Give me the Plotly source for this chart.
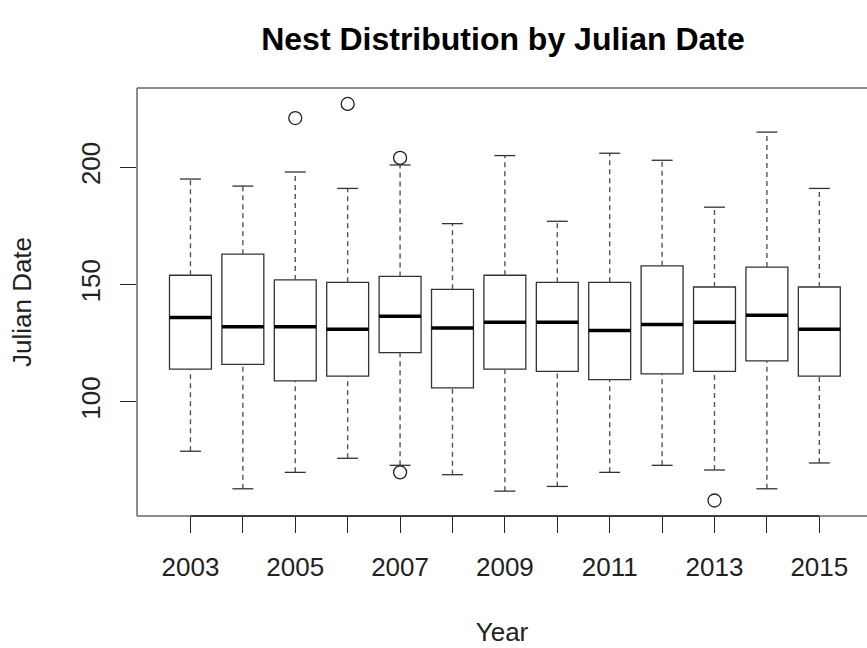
import plotly.graph_objects as go

years = [2003, 2004, 2005, 2006, 2007, 2008, 2009, 2010, 2011, 2012, 2013, 2014, 2015]
lower_whisker = [79, 63, 70, 76, 73, 69, 62, 64, 70, 73, 71, 63, 74]
q1 = [114, 116, 109, 111, 121, 106, 114, 113, 109.5, 112, 113, 117.5, 111]
median = [136, 132, 132, 131, 136.5, 131.5, 134, 134, 130.5, 133, 134, 137, 131]
q3 = [154, 163, 152, 151, 153.5, 148, 154, 151, 151, 158, 149, 157.5, 149]
upper_whisker = [195, 192, 198, 191, 201, 176, 205, 177, 206, 203, 183, 215, 191]
outlier_year = [2005, 2006, 2007, 2007, 2013]
outlier_value = [221, 227, 204, 70, 58]
y_ticks = [100, 150, 200]

pos = list(range(1, len(years) + 1))
pos_of = {y: p for y, p in zip(years, pos)}
BW = 0.8
SW = 0.4

fig = go.Figure()

fig.add_trace(go.Box(
    x=pos, q1=q1, median=median, q3=q3,
    lowerfence=q1, upperfence=q3,
    width=BW, fillcolor="white",
    line=dict(color="#333333", width=1.3),
    boxpoints=False, showlegend=False, hoverinfo="skip",
))

# whiskers
wx, wy = [], []
for p, lo, a, b, hi in zip(pos, lower_whisker, q1, q3, upper_whisker):
    wx += [p, p, None, p, p, None]
    wy += [b, hi, None, lo, a, None]
fig.add_trace(go.Scatter(x=wx, y=wy, mode="lines",
                         line=dict(color="#555555", width=1.4, dash="5px,4px"),
                         showlegend=False, hoverinfo="skip"))
# staples
sx, sy = [], []
for p, lo, hi in zip(pos, lower_whisker, upper_whisker):
    sx += [p - SW / 2, p + SW / 2, None, p - SW / 2, p + SW / 2, None]
    sy += [hi, hi, None, lo, lo, None]
fig.add_trace(go.Scatter(x=sx, y=sy, mode="lines",
                         line=dict(color="#333333", width=1.3),
                         showlegend=False, hoverinfo="skip"))
# medians
mx, my = [], []
for p, m in zip(pos, median):
    mx += [p - BW / 2, p + BW / 2, None]
    my += [m, m, None]
fig.add_trace(go.Scatter(x=mx, y=my, mode="lines",
                         line=dict(color="black", width=3.5),
                         showlegend=False, hoverinfo="skip"))
# outliers
fig.add_trace(go.Scatter(x=[pos_of[y] for y in outlier_year], y=outlier_value,
                         mode="markers",
                         marker=dict(symbol="circle-open", size=13,
                                     color="#222222", line=dict(width=1.3)),
                         showlegend=False, hoverinfo="skip"))

# frame: left, top, bottom (right side lies outside the picture, as in the original)
frame = dict(color="#666666", width=1.5)
for x0, y0, x1, y1 in [(0, 0, 0, 1), (0, 1, 1, 1), (0, 0, 1, 0)]:
    fig.add_shape(type="line", xref="paper", yref="paper", x0=x0, y0=y0, x1=x1, y1=y1,
                  line=frame, layer="above")
# x axis line from first to last tick
fig.add_shape(type="line", xref="x", yref="paper", x0=pos[0], x1=pos[-1], y0=0, y1=0,
              line=dict(color="#222222", width=1.3), layer="above")

font_family = "Liberation Sans, Arial, Helvetica, sans-serif"
fig.update_layout(
    width=867, height=648,
    margin=dict(l=137, r=0, t=88, b=132),
    paper_bgcolor="white", plot_bgcolor="white",
    font=dict(family=font_family, color="#222222", size=26),
    title=dict(text="<b>Nest Distribution by Julian Date</b>",
               x=503 / 867, xanchor="center", y=1 - 39 / 648, yanchor="middle",
               font=dict(size=32, color="black")),
    xaxis=dict(range=[-0.02, 13.91], tickvals=pos,
               ticktext=[str(y) if i % 2 == 0 else "" for i, y in enumerate(years)],
               ticks="outside", ticklen=16, tickwidth=1.3, tickcolor="#222222",
               ticklabelstandoff=12,
               showgrid=False, zeroline=False, showline=False,
               title=dict(text="Year", standoff=41, font=dict(size=26)),
               tickfont=dict(size=26)),
    yaxis=dict(range=[51.4, 233.8], tickvals=y_ticks, ticktext=[str(v) for v in y_ticks],
               ticks="outside", ticklen=16, tickwidth=1.3, tickcolor="#222222",
               tickangle=-90, ticklabelstandoff=10,
               showgrid=False, zeroline=False, showline=False,
               title=dict(text="Julian Date", standoff=36, font=dict(size=26)),
               tickfont=dict(size=26)),
)

fig.write_html(
    "out.html",
    config={"displayModeBar": False},
    post_script="document.body.style.margin='0';document.body.style.overflow='hidden';",
)
